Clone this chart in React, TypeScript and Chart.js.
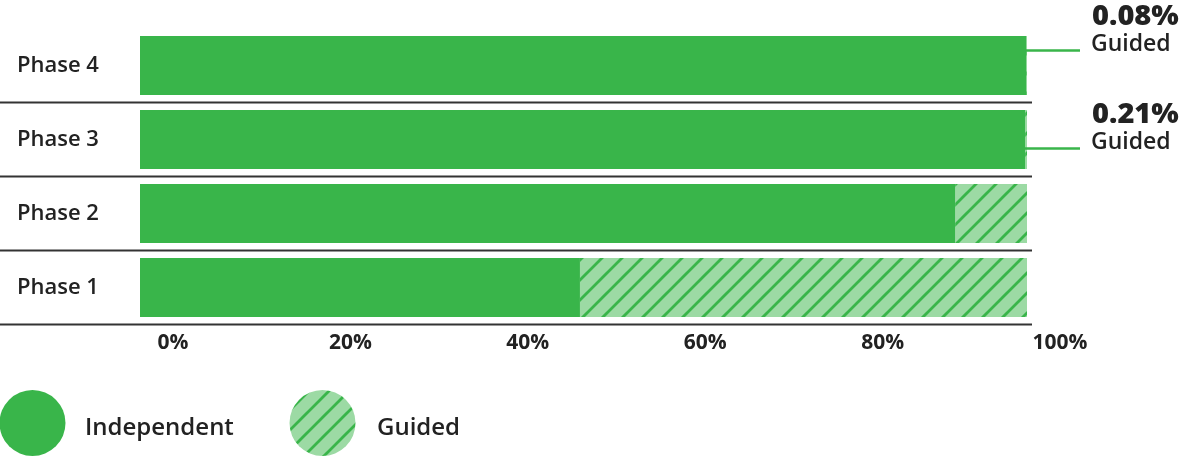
import React, { useEffect, useRef } from "react";
import { Chart, registerables } from "chart.js";

Chart.register(...registerables);

const categories = ["Phase 4", "Phase 3", "Phase 2", "Phase 1"];
const independentValues = [99.92, 99.79, 91.9, 49.6];
const guidedValues = [0.08, 0.21, 8.1, 50.4];
const xTickValues = [0, 20, 40, 60, 80, 100];
const seriesNames = ["Independent", "Guided"];
const calloutValues = ["0.08%", "0.21%"];
const calloutLabel = "Guided";

const GREEN = "#39b54a";
const LIGHT = "#9cdaa4";
const TEXT = "#222222";
const FONT = "'Open Sans', 'Noto Sans', sans-serif";

function makeHatch(ctx: CanvasRenderingContext2D): CanvasPattern | string {
  const size = 20;
  const c = document.createElement("canvas");
  c.width = size;
  c.height = size;
  const p = c.getContext("2d");
  if (!p) return LIGHT;
  p.fillStyle = LIGHT;
  p.fillRect(0, 0, size, size);
  p.strokeStyle = GREEN;
  p.lineWidth = 2.8;
  p.beginPath();
  for (let k = -1; k <= 1; k++) {
    const s = size * (1 + k);
    p.moveTo(s + size, -size);
    p.lineTo(s - size * 2, size * 2);
  }
  p.stroke();
  return ctx.createPattern(c, "repeat") || LIGHT;
}

export default function App() {
  const ref = useRef<HTMLCanvasElement | null>(null);

  useEffect(() => {
    document.body.style.margin = "0";
    const canvas = ref.current;
    if (!canvas) return;
    const ctx = canvas.getContext("2d");
    if (!ctx) return;
    const hatch = makeHatch(ctx);

    const separators = {
      id: "separators",
      beforeDatasetsDraw(chart: any) {
        const c = chart.ctx;
        const y = chart.scales.y;
        const x = chart.scales.x;
        const band = Math.abs(y.getPixelForValue(1) - y.getPixelForValue(0));
        c.save();
        c.strokeStyle = "#333333";
        c.lineWidth = 1.8;
        for (let i = 0; i < categories.length; i++) {
          const py = Math.round(y.getPixelForValue(i) + band / 2) - 0.5;
          c.beginPath();
          c.moveTo(0, py);
          c.lineTo(x.right + 5, py);
          c.stroke();
        }
        c.restore();
      },
    };

    const extras = {
      id: "extras",
      afterDatasetsDraw(chart: any) {
        const c = chart.ctx;
        const y = chart.scales.y;
        const x = chart.scales.x;
        c.save();
        const offsets = [-15, 9];
        calloutValues.forEach((val, i) => {
          const cy = y.getPixelForValue(i) + offsets[i];
          c.strokeStyle = GREEN;
          c.lineWidth = 2.5;
          c.beginPath();
          c.moveTo(x.getPixelForValue(100) - 2, cy);
          c.lineTo(x.getPixelForValue(100) + 53, cy);
          c.stroke();
          c.fillStyle = TEXT;
          c.textAlign = "left";
          c.textBaseline = "alphabetic";
          c.font = `800 29px ${FONT}`;
          c.fillText(val, x.getPixelForValue(100) + 65, cy - 26);
          c.font = `600 23px ${FONT}`;
          c.fillText(calloutLabel, x.getPixelForValue(100) + 64, cy);
        });
        const legendY = 423;
        const items = [
          { cx: 32.5, tx: 85, fill: GREEN },
          { cx: 322.5, tx: 377, fill: hatch },
        ];
        items.forEach((it, i) => {
          c.fillStyle = it.fill;
          c.beginPath();
          c.arc(it.cx, legendY, 33, 0, Math.PI * 2);
          c.fill();
          c.fillStyle = TEXT;
          c.font = `600 24px ${FONT}`;
          c.textBaseline = "middle";
          c.fillText(seriesNames[i], it.tx, legendY + 5);
        });
        c.restore();
      },
    };

    const chart = new Chart(ctx, {
      type: "bar",
      data: {
        labels: categories,
        datasets: [
          {
            label: seriesNames[0],
            data: independentValues,
            backgroundColor: GREEN,
            borderWidth: 0,
            barPercentage: 0.8,
            categoryPercentage: 1,
          },
          {
            label: seriesNames[1],
            data: guidedValues,
            backgroundColor: hatch as any,
            borderWidth: 0,
            barPercentage: 0.8,
            categoryPercentage: 1,
          },
        ],
      },
      options: {
        indexAxis: "y",
        responsive: false,
        animation: false,
        devicePixelRatio: 1,
        layout: { padding: { left: 17, right: 167, top: 28.5, bottom: 91.5 } },
        plugins: { legend: { display: false }, tooltip: { enabled: false } },
        scales: {
          x: {
            stacked: true,
            min: 0,
            max: 100,
            afterBuildTicks(scale: any) {
              scale.ticks = xTickValues.map((v) => ({ value: v }));
            },
            afterFit(scale: any) {
              scale.height = 40;
            },
            grid: { display: false },
            border: { display: false },
            ticks: {
              labelOffset: 33,
              padding: -2,
              color: TEXT,
              font: { family: FONT, size: 21, weight: "bold" },
              callback: (v: any) => `${v}%`,
            },
          },
          y: {
            stacked: true,
            afterFit(scale: any) {
              scale.width = 123;
            },
            grid: { display: false },
            border: { display: false },
            ticks: {
              crossAlign: "far",
              color: TEXT,
              padding: 4,
              font: { family: FONT, size: 22, weight: 600 },
            },
          },
        },
      },
      plugins: [separators, extras],
    });
    return () => chart.destroy();
  }, []);

  return (
    <div style={{ position: "absolute", left: 0, top: 0, width: 1194, height: 456 }}>
      <canvas ref={ref} width={1194} height={456} />
    </div>
  );
}
